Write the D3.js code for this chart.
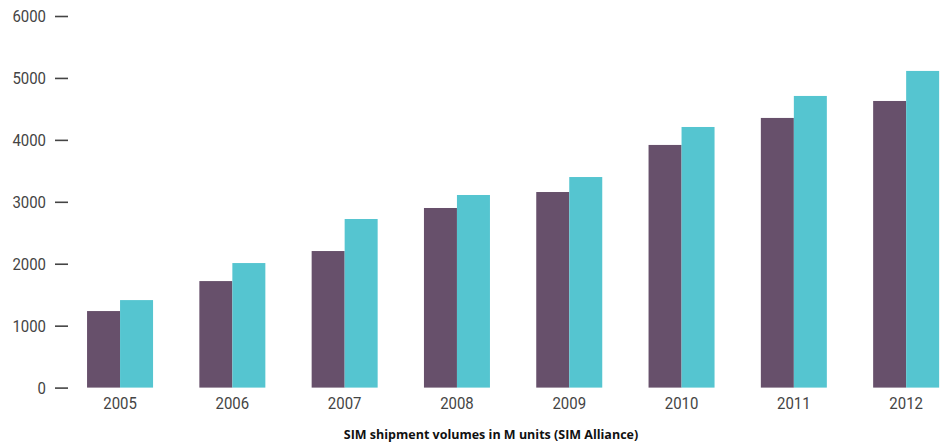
<!DOCTYPE html>
<html>
<head>
<meta charset="utf-8">
<script src="https://cdn.jsdelivr.net/npm/d3@7"></script>
<style>
  html, body { margin: 0; padding: 0; background: #fff; }
  svg { display: block; }
  .axis text { font-family: Roboto, "DejaVu Sans Condensed", sans-serif; font-size: 17px; fill: #444; }
  .axis line { stroke: #444; stroke-width: 1.6; }
  .title { font-family: "Open Sans", "Noto Sans", sans-serif; font-weight: 700; font-size: 12.5px; fill: #111; }
</style>
</head>
<body>
<script>
const years = ["2005","2006","2007","2008","2009","2010","2011","2012"];
const seriesNames = ["A", "B"];
const seriesA = [1236, 1720, 2205, 2900, 3158, 3918, 4354, 4628];
const seriesB = [1413, 2011, 2722, 3110, 3400, 4208, 4709, 5113];
const yTicks = [0, 1000, 2000, 3000, 4000, 5000, 6000];
const colors = ["#67506b", "#55c5d0"];
const title = "SIM shipment volumes in M units (SIM Alliance)";

const W = 946, H = 442;
const svg = d3.select("body").append("svg").attr("width", W).attr("height", H);

const x0 = d3.scaleBand().domain(years).range([63.9, 962.3]).paddingInner(0.4123).paddingOuter(0.2062);
const x1 = d3.scaleBand().domain(seriesNames).range([0, x0.bandwidth()]);
const y = d3.scaleLinear().domain([0, 6000]).range([387.6, 16]);

const data = years.map((yr, i) => ({ year: yr, values: [seriesA[i], seriesB[i]] }));

const g = svg.append("g").selectAll("g").data(data).join("g")
  .attr("transform", d => `translate(${x0(d.year)},0)`);
g.selectAll("rect").data(d => d.values.map((v, j) => ({ v, j })))
  .join("rect")
  .attr("x", d => x1(seriesNames[d.j]))
  .attr("width", x1.bandwidth())
  .attr("y", d => y(d.v))
  .attr("height", d => y(0) - y(d.v))
  .attr("fill", d => colors[d.j]);

const charW = 8.4;

const yAxis = svg.append("g").attr("class", "axis")
  .attr("transform", "translate(68,0)")
  .call(d3.axisLeft(y).tickValues(yTicks).tickFormat(d3.format("d")).tickSize(13).tickPadding(9));
yAxis.select(".domain").remove();
yAxis.selectAll("text").attr("dy", "0.35em")
  .attr("textLength", function() { return this.textContent.length * charW; })
  .attr("lengthAdjust", "spacingAndGlyphs");

const xAxis = svg.append("g").attr("class", "axis")
  .attr("transform", "translate(0,388)")
  .call(d3.axisBottom(x0).tickSize(0).tickPadding(9));
xAxis.select(".domain").remove();
xAxis.selectAll("text")
  .attr("textLength", function() { return this.textContent.length * charW; })
  .attr("lengthAdjust", "spacingAndGlyphs");

svg.append("text").attr("class", "title")
  .attr("x", 491).attr("y", 439).attr("text-anchor", "middle")
  .text(title);
</script>
</body>
</html>
